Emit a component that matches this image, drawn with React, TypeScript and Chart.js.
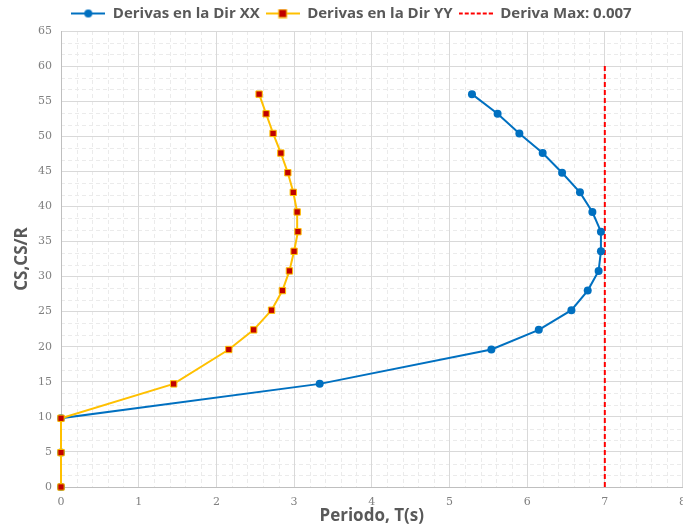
import React, { useEffect, useRef } from "react";
import { Chart, registerables } from "chart.js";

Chart.register(...registerables);

const alturas = [0, 4.9, 9.8, 14.7, 19.6, 22.4, 25.2, 28, 30.8, 33.6, 36.4, 39.2, 42, 44.8, 47.6, 50.4, 53.2, 56];
const derivaXX = [0, 0, 0, 3.33, 5.54, 6.15, 6.57, 6.78, 6.92, 6.95, 6.95, 6.84, 6.68, 6.45, 6.2, 5.9, 5.62, 5.29];
const derivaYY = [0, 0, 0, 1.45, 2.16, 2.48, 2.71, 2.85, 2.94, 3.0, 3.05, 3.04, 2.99, 2.92, 2.83, 2.73, 2.64, 2.55];
const derivaMaxX = [7, 7];
const derivaMaxY = [0, 60];
const labels = ["Derivas en la Dir XX", "Derivas en la Dir YY", "Deriva Max: 0.007"];

const BLUE = "#0070C0";
const YELLOW = "#FFC000";
const DARKRED = "#C00000";
const RED = "#FF0000";

function makeIcon(kind: number): HTMLCanvasElement {
  const c = document.createElement("canvas");
  c.width = 34;
  c.height = 10;
  const ctx = c.getContext("2d")!;
  ctx.lineWidth = 2;
  if (kind === 0) {
    ctx.strokeStyle = BLUE;
    ctx.beginPath();
    ctx.moveTo(0, 5);
    ctx.lineTo(34, 5);
    ctx.stroke();
    ctx.fillStyle = BLUE;
    ctx.beginPath();
    ctx.arc(17, 5, 4, 0, Math.PI * 2);
    ctx.fill();
  } else if (kind === 1) {
    ctx.strokeStyle = YELLOW;
    ctx.beginPath();
    ctx.moveTo(0, 5);
    ctx.lineTo(34, 5);
    ctx.stroke();
    ctx.fillStyle = YELLOW;
    ctx.fillRect(12.5, 0.5, 9, 9);
    ctx.fillStyle = DARKRED;
    ctx.fillRect(13.5, 1.5, 7, 7);
  } else {
    ctx.strokeStyle = RED;
    ctx.setLineDash([4, 2]);
    ctx.beginPath();
    ctx.moveTo(0, 5);
    ctx.lineTo(34, 5);
    ctx.stroke();
  }
  return c;
}

const minorGrid = {
  id: "minorGrid",
  beforeDraw(chart: any) {
    const { ctx, chartArea, scales } = chart;
    const xs = scales.x;
    const ys = scales.y;
    ctx.save();
    ctx.strokeStyle = "#ebebeb";
    ctx.lineWidth = 1;
    ctx.setLineDash([4, 3]);
    for (let i = 1; i < 40; i++) {
      if (i % 5 === 0) continue;
      const px = Math.round(xs.getPixelForValue(i * 0.2)) + 0.5;
      ctx.beginPath();
      ctx.moveTo(px, chartArea.top);
      ctx.lineTo(px, chartArea.bottom);
      ctx.stroke();
    }
    for (let i = 1; i < 39; i++) {
      if (i % 3 === 0) continue;
      const py = Math.round(ys.getPixelForValue((i * 5) / 3)) + 0.5;
      ctx.beginPath();
      ctx.moveTo(chartArea.left, py);
      ctx.lineTo(chartArea.right, py);
      ctx.stroke();
    }
    ctx.restore();
  },
};

export default function App() {
  const ref = useRef<HTMLCanvasElement>(null);
  useEffect(() => {
    const icons = [makeIcon(0), makeIcon(1), makeIcon(2)];
    const chart = new Chart(ref.current!, {
      type: "line",
      data: {
        datasets: [
          {
            label: labels[0],
            data: derivaXX.map((x, i) => ({ x, y: alturas[i] })),
            borderColor: BLUE,
            backgroundColor: BLUE,
            borderWidth: 2,
            pointStyle: "circle",
            pointRadius: 4,
            pointBorderWidth: 0,
            pointBackgroundColor: BLUE,
            clip: false,
            order: 1,
          },
          {
            label: labels[1],
            data: derivaYY.map((x, i) => ({ x, y: alturas[i] })),
            borderColor: YELLOW,
            backgroundColor: DARKRED,
            borderWidth: 2,
            pointStyle: "rect",
            pointRadius: 4.5,
            pointBorderWidth: 1,
            pointBorderColor: YELLOW,
            pointBackgroundColor: DARKRED,
            clip: false,
            order: 0,
          },
          {
            label: labels[2],
            data: derivaMaxX.map((x, i) => ({ x, y: derivaMaxY[i] })),
            borderColor: RED,
            borderWidth: 2,
            borderDash: [5, 3],
            pointRadius: 0,
            order: 2,
          },
        ],
      },
      options: {
        responsive: true,
        maintainAspectRatio: false,
        animation: false,
        layout: { padding: { top: 0, left: 8, right: 0, bottom: 0 } },
        plugins: {
          tooltip: { enabled: false },
          legend: {
            position: "top",
            labels: {
              usePointStyle: true,
              pointStyleWidth: 34,
              padding: 6,
              color: "#595959",
              font: { family: "Open Sans", size: 15, weight: "bold" },
              generateLabels: () =>
                labels.map((t, i) => ({
                  text: t,
                  pointStyle: icons[i],
                  fillStyle: "transparent",
                  strokeStyle: "transparent",
                  lineWidth: 0,
                  hidden: false,
                  datasetIndex: i,
                  fontColor: "#595959",
                })),
            },
          },
        },
        scales: {
          x: {
            type: "linear",
            min: 0,
            max: 8,
            afterFit: (s: any) => {
              s.height = 39;
            },
            ticks: {
              stepSize: 1,
              color: "#808080",
              font: { family: "DejaVu Serif", size: 11 },
              padding: 9,
            },
            grid: { color: "#d9d9d9", drawTicks: false },
            border: { color: "#bfbfbf" },
            title: {
              display: true,
              text: "Periodo, T(s)",
              color: "#595959",
              font: { family: "Open Sans", size: 17, weight: "bold" },
              padding: { top: 0, bottom: 0 },
            },
          },
          y: {
            type: "linear",
            min: 0,
            max: 65,
            afterFit: (s: any) => {
              s.width = 53;
            },
            ticks: {
              stepSize: 5,
              color: "#808080",
              font: { family: "DejaVu Serif", size: 11 },
              padding: 9,
              autoSkip: false,
            },
            grid: { color: "#d9d9d9", drawTicks: false },
            border: { color: "#bfbfbf" },
            title: {
              display: true,
              text: "CS,CS/R",
              color: "#595959",
              font: { family: "Open Sans", size: 17, weight: "bold" },
              padding: { top: 4, bottom: 0 },
            },
          },
        },
      },
      plugins: [minorGrid],
    } as any);
    return () => chart.destroy();
  }, []);
  return (
    <div style={{ position: "fixed", left: 0, top: 0, width: 683, height: 526, overflow: "hidden", background: "#fff" }}>
      <div style={{ position: "absolute", left: 0, top: 0, width: 695, height: 526 }}>
        <canvas ref={ref} />
      </div>
    </div>
  );
}
